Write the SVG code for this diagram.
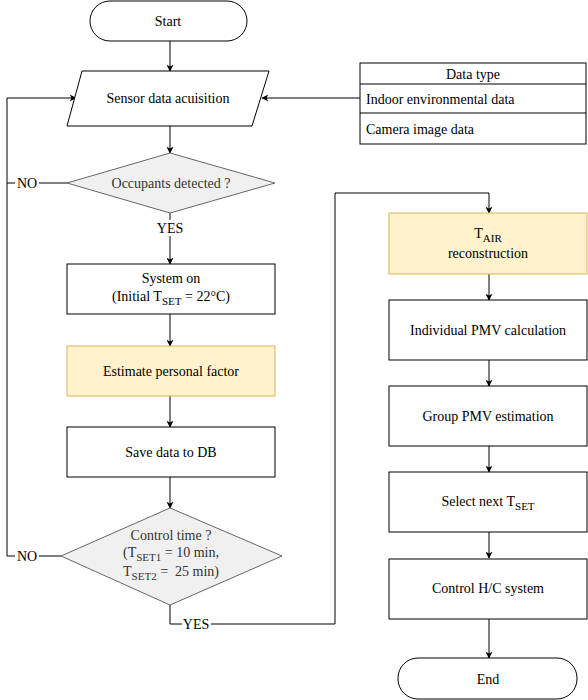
<svg xmlns="http://www.w3.org/2000/svg" width="588" height="700" viewBox="0 0 588 700" font-family="'Liberation Serif', 'DejaVu Serif', serif">
<style>
text{font-family:'Liberation Serif','DejaVu Serif',serif;font-size:14px;fill:#000;text-anchor:middle}
.box{fill:#fff;stroke:#000;stroke-width:1}
.yel{fill:#fff2cc;stroke:#d6b656;stroke-width:1}
.dia{fill:#f0f0f0;stroke:#666;stroke-width:1}
.dt{fill:#333}
.ln{fill:none;stroke:#000;stroke-width:1}
.arr{marker-end:url(#ah)}
.lbl{fill:#fff;stroke:none}
.lt{text-anchor:start}
.sub{font-size:11px}
</style>
<defs>
<marker id="ah" viewBox="0 0 10 10" refX="9" refY="5" markerWidth="7" markerHeight="7" markerUnits="userSpaceOnUse" orient="auto">
<path d="M0,0 L10,5 L0,10 L2.5,5 Z" fill="#000"/>
</marker>
</defs>
<rect width="588" height="700" fill="#fff"/>
<g id="connectors">
<line class="ln arr" x1="170" y1="41" x2="170" y2="71"/>
<line class="ln arr" x1="170" y1="126" x2="170" y2="153"/>
<line class="ln arr" x1="170" y1="213" x2="170" y2="264"/>
<line class="ln arr" x1="170" y1="314" x2="170" y2="346"/>
<line class="ln arr" x1="170" y1="396" x2="170" y2="427"/>
<line class="ln arr" x1="170" y1="477" x2="170" y2="508"/>
<polyline class="ln arr" points="61,556 7,556 7,98 76,98"/>
<line class="ln" x1="67" y1="183" x2="7" y2="183"/>
<polyline class="ln arr" points="170,605 170,624 335,624 335,193 489,193 489,213"/>
<line class="ln arr" x1="360" y1="98" x2="262" y2="98"/>
<line class="ln arr" x1="489" y1="274" x2="489" y2="300"/>
<line class="ln arr" x1="489" y1="360" x2="489" y2="386"/>
<line class="ln arr" x1="489" y1="446" x2="489" y2="472"/>
<line class="ln arr" x1="489" y1="532" x2="489" y2="558"/>
<line class="ln arr" x1="489" y1="619" x2="489" y2="658"/>
<rect class="lbl" x="15" y="175" width="24" height="16"/>
<text x="27" y="188">NO</text>
<rect class="lbl" x="15" y="548" width="24" height="16"/>
<text x="27" y="561">NO</text>
<rect class="lbl" x="156" y="220" width="29" height="16"/>
<text x="170" y="233">YES</text>
<rect class="lbl" x="182" y="616" width="29" height="16"/>
<text x="196" y="629">YES</text>
</g>
<g id="start">
<rect class="box" x="90" y="1" width="157" height="40" rx="20" ry="20"/>
<text x="168" y="26">Start</text>
</g>
<g id="sensor">
<polygon class="box" points="82,71 269,71 252,126 67,126"/>
<text x="168" y="103">Sensor data acuisition</text>
</g>
<g id="datatype">
<rect class="box" x="360" y="63" width="226" height="81"/>
<line class="ln" x1="360" y1="84" x2="586" y2="84"/>
<line class="ln" x1="360" y1="113" x2="586" y2="113"/>
<text x="473" y="78.5">Data type</text>
<text class="lt" x="366" y="103.5">Indoor environmental data</text>
<text class="lt" x="366" y="133.5">Camera image data</text>
</g>
<g id="occupants">
<polygon class="dia" points="170,153 275,183 170,213 67,183"/>
<text class="dt" x="171" y="188">Occupants detected ?</text>
</g>
<g id="systemon">
<rect class="box" x="67" y="264" width="208" height="50"/>
<text x="171" y="283">System on</text>
<text x="171" y="301"><tspan>(Initial T</tspan><tspan class="sub" dy="4">SET</tspan><tspan dy="-4"> = 22°C)</tspan></text>
</g>
<g id="estimate">
<rect class="yel" x="67" y="346" width="208" height="50"/>
<text x="171" y="376">Estimate personal factor</text>
</g>
<g id="savedb">
<rect class="box" x="67" y="427" width="208" height="50"/>
<text x="171" y="457">Save data to DB</text>
</g>
<g id="controltime">
<polygon class="dia" points="170,508 282,556 170,605 61,556"/>
<text class="dt" x="171" y="540">Control time ?</text>
<text class="dt" x="171" y="557"><tspan>(T</tspan><tspan class="sub" dy="4">SET1</tspan><tspan dy="-4"> = 10 min,</tspan></text>
<text class="dt" x="171" y="576" xml:space="preserve"><tspan>T</tspan><tspan class="sub" dy="4">SET2</tspan><tspan dy="-4"> =  25 min)</tspan></text>
</g>
<g id="tair">
<rect class="yel" x="389" y="213" width="198" height="61"/>
<text x="488" y="238"><tspan>T</tspan><tspan class="sub" dy="4">AIR</tspan></text>
<text x="488" y="258">reconstruction</text>
</g>
<g id="individual">
<rect class="box" x="389" y="300" width="198" height="60"/>
<text x="488" y="335">Individual PMV calculation</text>
</g>
<g id="group">
<rect class="box" x="389" y="386" width="198" height="60"/>
<text x="488" y="421">Group PMV estimation</text>
</g>
<g id="selectnext">
<rect class="box" x="389" y="472" width="198" height="60"/>
<text x="488" y="506"><tspan>Select next T</tspan><tspan class="sub" dy="4">SET</tspan></text>
</g>
<g id="control">
<rect class="box" x="389" y="559" width="198" height="60"/>
<text x="488" y="593">Control H/C system</text>
</g>
<g id="end">
<rect class="box" x="398" y="658" width="179" height="41" rx="20" ry="20"/>
<text x="488" y="684">End</text>
</g>
</svg>
